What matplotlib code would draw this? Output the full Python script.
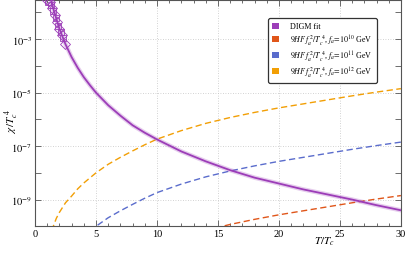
import numpy as np
import matplotlib
matplotlib.use('Agg')
import matplotlib.pyplot as plt
from matplotlib.patches import Patch
from matplotlib.ticker import FixedLocator, MultipleLocator

plt.rcParams['font.family'] = ['Liberation Serif', 'DejaVu Serif']
plt.rcParams['mathtext.fontset'] = 'stix'

# DIGM fit, log10(chi/Tc^4)
t_fit = [1.3, 1.5, 2.0, 2.5, 3.0, 3.5, 4.0, 4.5, 5.0, 6.0, 7.0, 8.0, 9.0, 10.0,
         12.0, 14.0, 16.0, 18.0, 20.0, 22.0, 24.0, 26.0, 28.0, 30.0]
lg_fit = [-1.50, -1.86, -2.61, -3.19, -3.67, -4.07, -4.42, -4.72, -5.00, -5.47,
          -5.86, -6.22, -6.50, -6.75, -7.20, -7.57, -7.90, -8.18, -8.40, -8.62,
          -8.81, -9.00, -9.21, -9.40]

# lattice points
t_pts = [1.0, 1.1, 1.2, 1.3, 1.4, 1.5, 1.6, 1.7, 1.8, 1.9, 2.0, 2.1, 2.2, 2.3, 2.5]
lg_pts = [-1.55, -1.62, -1.60, -1.72, -1.85, -1.93, -2.10, -2.22, -2.35, -2.50,
          -2.62, -2.72, -2.85, -2.97, -3.19]

# 9HF fa^2/Tc^4 curves
t_12 = [1.3, 1.5, 1.75, 2.0, 2.5, 3.0, 3.5, 4.0, 5.0, 6.0, 7.0, 8.0, 9.0, 10.0,
        12.0, 14.0, 16.0, 18.0, 20.0, 22.0, 24.0, 26.0, 28.0, 30.0]
lg_12 = [-10.9, -10.0, -9.70, -9.48, -9.12, -8.87, -8.60, -8.38, -8.00, -7.68,
         -7.42, -7.18, -6.95, -6.74, -6.42, -6.15, -5.93, -5.74, -5.57, -5.42,
         -5.27, -5.12, -4.98, -4.85]
t_11 = [4.5, 5.0, 6.0, 7.0, 8.0, 9.0, 10.0, 12.0, 14.0, 16.0, 18.0, 20.0, 22.0,
        24.0, 26.0, 28.0, 30.0]
lg_11 = [-10.18, -10.0, -9.68, -9.42, -9.18, -8.95, -8.74, -8.42, -8.15, -7.93,
         -7.74, -7.57, -7.42, -7.27, -7.12, -6.98, -6.85]
t_10 = [14.0, 16.0, 18.0, 20.0, 22.0, 24.0, 26.0, 28.0, 30.0]
lg_10 = [-10.15, -9.93, -9.74, -9.57, -9.42, -9.27, -9.12, -8.98, -8.85]

purple = '#9c3db8'
red = '#e0561a'
blue = '#5a6ccc'
orange = '#f29f05'

fig = plt.figure(figsize=(4.07, 2.55), dpi=100)
ax = fig.add_axes([0.086, 0.1086, 0.899, 0.889])

ax.plot(t_fit, 10.0 ** np.array(lg_fit), color=purple, lw=3.2, alpha=0.25, zorder=3)
ax.plot(t_fit, 10.0 ** np.array(lg_fit), color=purple, lw=1.3, zorder=4)
ax.plot(t_pts[::2], 10.0 ** np.array(lg_pts[::2]), ls='none', marker='D', ms=5,
        mfc='none', mec=purple, mew=0.6, zorder=5)
ax.plot(t_pts[1::2], 10.0 ** np.array(lg_pts[1::2]), ls='none', marker='s', ms=4.5,
        mfc='none', mec=purple, mew=0.6, zorder=5)

dash = (0, (4.5, 2.5))
ax.plot(t_10, 10.0 ** np.array(lg_10), color=red, lw=1.0, ls=dash)
ax.plot(t_11, 10.0 ** np.array(lg_11), color=blue, lw=1.0, ls=dash)
ax.plot(t_12, 10.0 ** np.array(lg_12), color=orange, lw=1.0, ls=dash)

ax.set_yscale('log')
ax.set_xlim(0, 30)
ax.set_ylim(1e-10, 10 ** -1.52)

ax.xaxis.set_major_locator(MultipleLocator(5))
ax.xaxis.set_minor_locator(MultipleLocator(1))
ax.yaxis.set_major_locator(FixedLocator([10.0 ** k for k in range(-10, -1)]))
ax.yaxis.set_minor_locator(FixedLocator([]))
ax.set_yticks([10.0 ** k for k in range(-10, -1)])
ax.set_yticklabels(['' if k % 2 == 0 else r'$10^{%d}$' % k for k in range(-10, -1)])

for v in [5, 10, 15, 20, 25]:
    ax.axvline(v, color='#c4c4c4', lw=0.6, ls=(0, (1, 2)), zorder=0)
for k in [-3, -5, -7, -9]:
    ax.axhline(10.0 ** k, color='#c4c4c4', lw=0.6, ls=(0, (1, 2)), zorder=0)

ax.tick_params(which='both', direction='in', top=True, right=True, labelsize=7.5,
               color='#555555', width=0.6, pad=2)
ax.tick_params(which='major', length=4)
ax.tick_params(which='minor', length=2)
for s in ax.spines.values():
    s.set_color('#555555')
    s.set_linewidth(0.8)

ax.text(-0.063, 0.47, r'$\chi\,/T_c^{\ 4}$', transform=ax.transAxes, fontsize=8,
        rotation=90, ha='center', va='center')
ax.text(0.79, -0.065, r'$T/T_c$', transform=ax.transAxes, fontsize=8,
        ha='center', va='center')

handles = [Patch(facecolor=purple, edgecolor='none'),
           Patch(facecolor=red, edgecolor='none'),
           Patch(facecolor=blue, edgecolor='none'),
           Patch(facecolor=orange, edgecolor='none')]
labels = ['DIGM fit',
          r'$9HF\,f_a^{\,2}/T_c^{\,4}$, $f_a\!=\!10^{10}$ GeV',
          r'$9HF\,f_a^{\,2}/T_c^{\,4}$, $f_a\!=\!10^{11}$ GeV',
          r'$9HF\,f_a^{\,2}/T_c^{\,4}$, $f_a\!=\!10^{12}$ GeV']
leg = ax.legend(handles, labels, loc='upper left', bbox_to_anchor=(0.627, 0.935),
                fontsize=5.8, handlelength=0.8, handleheight=0.8, handletextpad=1.4,
                labelspacing=0.2, borderpad=0.5, fancybox=True, framealpha=1,
                edgecolor='#333333')
leg.get_frame().set_linewidth(0.9)

fig.savefig('out.png', dpi=100)
